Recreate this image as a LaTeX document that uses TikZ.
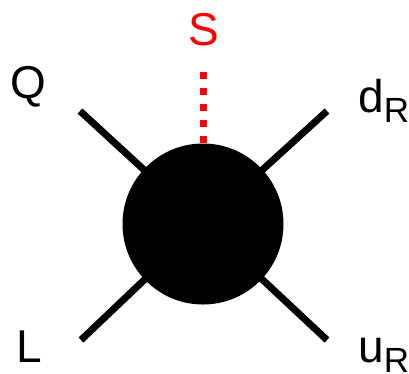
\documentclass[tikz,border=0pt]{standalone}
\usepackage{fontspec}
\setmainfont{Liberation Sans}
\usepackage{tikz}

\newcommand{\lowidx}[1]{\raisebox{-10pt}{\fontsize{35}{40}\selectfont #1}}

\tikzset{
  leg/.style={line width=7pt},
  blob/.style={circle,fill=black,inner sep=0pt,minimum size=161pt},
  lbl/.style={inner sep=0pt,font=\fontsize{46}{50}\selectfont}
}

\begin{document}
\begin{tikzpicture}[x=1pt,y=-1pt]
            \useasboundingbox (0,0) rectangle (409,373);
            \coordinate (c) at (203,224);
            \coordinate (qend) at (80,111);
            \coordinate (dend) at (327,111);
            \coordinate (lend) at (81,340);
            \coordinate (uend) at (327,340);
            \coordinate (send) at (203,72);
            \draw[leg] (qend) -- (c);
            \draw[leg] (dend) -- (c);
            \draw[leg] (lend) -- (c);
            \draw[leg] (uend) -- (c);
            \node[blob] (vertex) at (c) {};
            \draw[red,line width=7pt,dash pattern=on 7pt off 9pt] (send) -- (vertex.north);
            \node[lbl,red,anchor=base] (s) at (204,45) {S};
            \node[lbl,anchor=base] (q) at (28.5,98) {Q};
            \node[lbl,anchor=base] (l) at (29,362) {L};
            \node[lbl,anchor=base west] (dr) at (358,112) {d\lowidx{R}};
            \node[lbl,anchor=base west] (ur) at (358,362) {u\lowidx{R}};
        \end{tikzpicture}
\end{document}
